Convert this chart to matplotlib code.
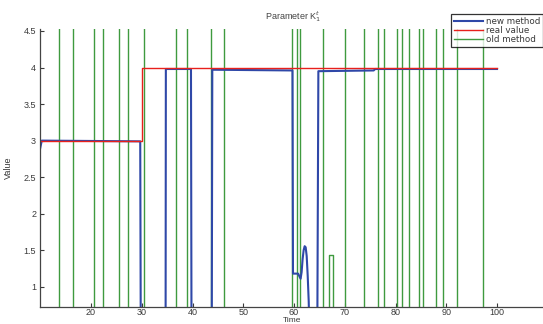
import numpy as np
import matplotlib
matplotlib.use("Agg")
import matplotlib.pyplot as plt

plt.rcParams['font.family'] = ['Liberation Sans', 'DejaVu Sans']

# real value (step at t=30)
real_t = [10, 30, 30, 100]
real_v = [3.0, 3.0, 4.0, 4.0]

# new method estimate (values below the axis are clipped by the view)
new_t = [10, 10.3, 29.7, 29.8, 34.7, 34.75, 39.7, 39.8, 43.8, 43.9, 59.7, 59.8,
         60.8, 61.3, 61.5, 61.7, 61.9, 62.1, 62.3, 62.5, 62.7, 62.9, 63.0,
         64.6, 64.8, 75.7, 76.0, 100]
new_v = [2.9, 3.0, 2.99, 0.5, 0.5, 3.98, 3.98, 0.5, 0.5, 3.97, 3.96, 1.18,
         1.18, 1.11, 1.2, 1.38, 1.5, 1.555, 1.54, 1.42, 1.15, 0.8, 0.5,
         0.5, 3.95, 3.96, 3.98, 3.98]

# old method: oscillates far outside the shown range (step series)
old_t = [10, 13.7, 16.5, 20.65, 22.3, 25.6, 27.2, 30.4, 36.7, 38.9, 43.6, 46.3,
         59.7, 60.65, 61.1, 65.65, 66.9, 67.6, 70.1, 73.8, 76.6, 77.8, 80.3,
         81.3, 82.6, 84.6, 85.5, 87.9, 89.4, 92.1, 97.2, 100]
old_v = [6, -1, 6, -1, 6, -1, 6, -1, 6, -1, 6, -1,
         6, -1, 6, -1, 1.44, -1, 6, -1, 6, -1, 6,
         -1, 6, -1, 6, -1, 6, -1, 6, 6]

x_ticks = [20, 30, 40, 50, 60, 70, 80, 90, 100]
y_ticks = [1, 1.5, 2, 2.5, 3, 3.5, 4, 4.5]
y_labels = ['1', '1.5', '2', '2.5', '3', '3.5', '4', '4.5']

fig = plt.figure(figsize=(5.43, 3.24), dpi=100)
ax = fig.add_axes([40.25 / 543, 17.5 / 324, 1 - 40.25 / 543, (306.5 - 28.8) / 324])

txt = '#3a3a3a'
h_old, = ax.plot(old_t, old_v, drawstyle='steps-post', color='#3f9a3f',
                 lw=1.0, label='old method')
h_new, = ax.plot(new_t, new_v, color='#2f48a8', lw=1.5, label='new method')
h_real, = ax.plot(real_t, real_v, color='#e8201c', lw=1.0, label='real value')

ax.set_xlim(10, 10 + (543 - 40.25) / 5.075)
ax.set_ylim(0.73, 4.53)
ax.set_xticks(x_ticks)
ax.set_yticks(y_ticks)
ax.set_yticklabels(y_labels)
ax.tick_params(direction='in', length=3, width=0.8, labelsize=6.5,
               colors=txt, pad=3)
ax.tick_params(axis='x', pad=0.8)
for s in ['top', 'right']:
    ax.spines[s].set_visible(False)
for s in ['left', 'bottom']:
    ax.spines[s].set_color('#444444')
    ax.spines[s].set_linewidth(0.9)

# x label sits at the very bottom edge, as in the source
fig.text(292 / 543, 0, 'Time', fontsize=6.0, color=txt,
         ha='center', va='bottom')
ax.set_ylabel('Value', fontsize=6.5, color=txt, labelpad=8)
fig.text(293 / 543, 1 - 17 / 324, 'Parameter K$_1^t$', fontsize=6.5,
         color='#444444', ha='center', va='center')

leg = fig.legend([h_new, h_real, h_old], ['new method', 'real value', 'old method'],
                 loc='upper right', bbox_to_anchor=(1.0, 1 - 14 / 324),
                 prop={'family': 'DejaVu Sans', 'size': 6.3},
                 frameon=True, fancybox=False, handlelength=3.3,
                 borderpad=0.3, labelspacing=0.05, handletextpad=0.35,
                 borderaxespad=0)
leg.get_frame().set_edgecolor('black')
leg.get_frame().set_linewidth(0.9)
for t in leg.get_texts():
    t.set_color(txt)

fig.savefig('out.png', dpi=100)
